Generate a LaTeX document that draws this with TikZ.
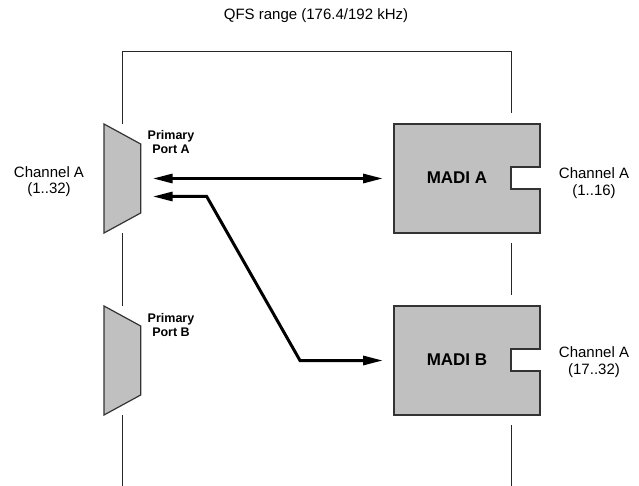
\documentclass[tikz,border=0pt]{standalone}
\usepackage{fontspec}
\setmainfont{Liberation Sans}
\usetikzlibrary{arrows.meta,calc}
\definecolor{boxgray}{HTML}{C0C0C0}
\definecolor{edgegray}{HTML}{333333}
\tikzset{
  region/.style={inner sep=0pt, outer sep=0pt, draw=none},
  shapefill/.style={fill=boxgray, draw=edgegray, line width=1.2pt, line join=miter},
  frame/.style={draw=black!85, line width=1pt},
  conn/.style={line width=3pt, line join=miter, {Triangle[length=20pt,width=9pt]}-{Triangle[length=20pt,width=9pt]}, shorten <=12pt, shorten >=11pt},
  lbl/.style={inner sep=0pt, align=center, font=\fontsize{15}{16.5}\selectfont},
  portlbl/.style={inner sep=0pt, align=center, font=\bfseries\fontsize{12.5}{14}\selectfont},
  madilbl/.style={inner sep=0pt, font=\bfseries\fontsize{17}{20}\selectfont}
}
\begin{document}
\begin{tikzpicture}[x=1pt,y=-1pt]
\useasboundingbox (0,0) rectangle (639,486);
% title
\node[lbl] (title) at (316,16) {QFS range (176.4/192 kHz)};
% frame coordinates
\coordinate (topL) at (122,52);
\coordinate (topR) at (511,52);
\coordinate (botL) at (122,486);
\coordinate (botR) at (511,486);
% regions
\node[region, minimum width=36.7pt, minimum height=109pt] (trapA) at (122.35,178.5) {};
\node[region, minimum width=36.7pt, minimum height=109pt] (trapB) at (122.35,360.5) {};
\node[region, minimum width=146pt, minimum height=109pt] (madiA) at (467,178.5) {};
\node[region, minimum width=146pt, minimum height=109pt] (madiB) at (467,360.5) {};
% frame lines
\draw[frame] (topL |- trapA.north) -- (topL) -- (topR) -- ([yshift=11pt]topR |- madiA.north);
\draw[frame] (topL |- trapA.south) -- (topL |- trapB.north);
\draw[frame] (topL |- trapB.south) -- (botL);
\draw[frame] ([yshift=-10pt]topR |- madiA.south) -- ([yshift=11pt]topR |- madiB.north);
\draw[frame] ([yshift=-10pt]topR |- madiB.south) -- (botR);
% trapezoids
\foreach \t in {trapA,trapB}{
  \draw[shapefill] (\t.north west) -- ([yshift=-20pt]\t.north east) -- ([yshift=20pt]\t.south east) -- (\t.south west) -- cycle;
}
% MADI boxes with notch
\foreach \m in {madiA,madiB}{
  \draw[shapefill] (\m.north west) -- (\m.north east) -- ([yshift=-43pt]\m.north east) -- ([xshift=-29pt,yshift=-43pt]\m.north east) -- ([xshift=-29pt,yshift=-65pt]\m.north east) -- ([yshift=-65pt]\m.north east) -- (\m.south east) -- (\m.south west) -- cycle;
}
% labels
\node[madilbl] (madiAlbl) at ([xshift=-10pt,yshift=1pt]madiA.center) {MADI A};
\node[madilbl] (madiBlbl) at ([xshift=-10pt,yshift=1pt]madiB.center) {MADI B};
\node[portlbl] (portA) at (171,142.5) {Primary\\Port A};
\node[portlbl] (portB) at (171,324.7) {Primary\\Port B};
\node[lbl] (chL) at (49,181.5) {Channel A\\(1..32)};
\node[lbl] (chA) at (594,183) {Channel A\\(1..16)};
\node[lbl] (chB) at (594,362) {Channel A\\(17..32)};
% connectors
\coordinate (bend1) at (206.7,196.5);
\coordinate (bend2) at (300,360.5);
\draw[conn] (trapA.east) -- (madiA.west);
\draw[conn] ([yshift=-18pt]trapA.east) -- (bend1) -- (bend2) -- (madiB.west);
\end{tikzpicture}
\end{document}
